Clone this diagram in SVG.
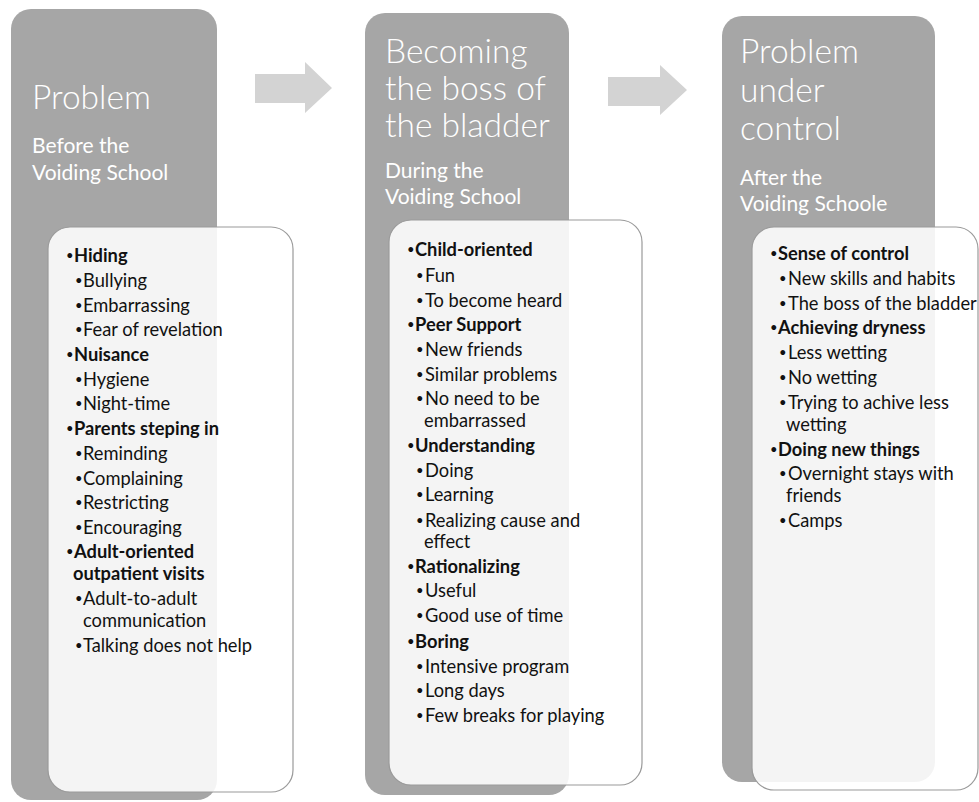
<svg xmlns="http://www.w3.org/2000/svg" width="979" height="802" viewBox="0 0 979 802">
  <style>
    .stage { fill: #a6a6a6; }
    .card { fill: #ffffff; fill-opacity: 0.88; stroke: #9a9a9a; stroke-width: 1.2; }
    .title { font-family: Lato, "Liberation Sans", sans-serif; font-weight: 300; font-size: 33.5px; fill: #ffffff; }
    .sub { font-family: Lato, "Liberation Sans", sans-serif; font-weight: 400; font-size: 21px; fill: #ffffff; }
    .item { font-family: Lato, "Liberation Sans", sans-serif; font-size: 18.3px; fill: #111111; }
    .dot { font-family: Lato, "Liberation Sans", sans-serif; font-size: 13px; fill: #111111; }
    .b { font-weight: 700; }
    .flow { fill: #d3d3d3; }
  </style>

  <!-- stage 1 -->
  <g id="before">
    <rect class="stage" x="11" y="9" width="206" height="791" rx="20"/>
    <text class="title" x="32" y="109">Problem</text>
    <text class="sub" x="32" y="153">Before the</text>
    <text class="sub" x="32" y="180">Voiding School</text>
    <rect class="card" x="48" y="227" width="245" height="565" rx="22"/>
    <g class="dot">
      <text x="66" y="260">•</text>
      <text x="75" y="285">•</text>
      <text x="75" y="310">•</text>
      <text x="75" y="334">•</text>
      <text x="66" y="359">•</text>
      <text x="75" y="384">•</text>
      <text x="75" y="408">•</text>
      <text x="66" y="433">•</text>
      <text x="75" y="458">•</text>
      <text x="75" y="483">•</text>
      <text x="75" y="507">•</text>
      <text x="75" y="532">•</text>
      <text x="66" y="556">•</text>
      <text x="75" y="603">•</text>
      <text x="75" y="650">•</text>
    </g>
    <g class="item">
      <text class="b" x="74" y="262">Hiding</text>
      <text x="83" y="287">Bullying</text>
      <text x="83" y="312">Embarrassing</text>
      <text x="83" y="336">Fear of revelation</text>
      <text class="b" x="74" y="361">Nuisance</text>
      <text x="83" y="386">Hygiene</text>
      <text x="83" y="410">Night-time</text>
      <text class="b" x="74" y="435">Parents steping in</text>
      <text x="83" y="460">Reminding</text>
      <text x="83" y="485">Complaining</text>
      <text x="83" y="509">Restricting</text>
      <text x="83" y="534">Encouraging</text>
      <text class="b" x="74" y="558">Adult-oriented</text>
      <text class="b" x="73" y="580">outpatient visits</text>
      <text x="83" y="605">Adult-to-adult</text>
      <text x="83" y="627">communication</text>
      <text x="83" y="652">Talking does not help</text>
    </g>
  </g>

  <!-- stage 2 -->
  <g id="during">
    <rect class="stage" x="365" y="13" width="204" height="782" rx="20"/>
    <text class="title" x="385" y="63">Becoming</text>
    <text class="title" x="385" y="100">the boss of</text>
    <text class="title" x="385" y="137">the bladder</text>
    <text class="sub" x="385" y="178">During the</text>
    <text class="sub" x="385" y="204">Voiding School</text>
    <rect class="card" x="389" y="220" width="253" height="565" rx="22"/>
    <g class="dot">
      <text x="407" y="254">•</text>
      <text x="416" y="280">•</text>
      <text x="416" y="305">•</text>
      <text x="407" y="329">•</text>
      <text x="416" y="354">•</text>
      <text x="416" y="379">•</text>
      <text x="416" y="403">•</text>
      <text x="407" y="450">•</text>
      <text x="416" y="475">•</text>
      <text x="416" y="499">•</text>
      <text x="416" y="525">•</text>
      <text x="407" y="571">•</text>
      <text x="416" y="595">•</text>
      <text x="416" y="620">•</text>
      <text x="407" y="646">•</text>
      <text x="416" y="671">•</text>
      <text x="416" y="695">•</text>
      <text x="416" y="720">•</text>
    </g>
    <g class="item">
      <text class="b" x="415" y="256">Child-oriented</text>
      <text x="425" y="282">Fun</text>
      <text x="425" y="307">To become heard</text>
      <text class="b" x="415" y="331">Peer Support</text>
      <text x="425" y="356">New friends</text>
      <text x="425" y="381">Similar problems</text>
      <text x="425" y="405">No need to be</text>
      <text x="424" y="427">embarrassed</text>
      <text class="b" x="415" y="452">Understanding</text>
      <text x="425" y="477">Doing</text>
      <text x="425" y="501">Learning</text>
      <text x="425" y="527">Realizing cause and</text>
      <text x="424" y="548">effect</text>
      <text class="b" x="415" y="573">Rationalizing</text>
      <text x="425" y="597">Useful</text>
      <text x="425" y="622">Good use of time</text>
      <text class="b" x="415" y="648">Boring</text>
      <text x="425" y="673">Intensive program</text>
      <text x="425" y="697">Long days</text>
      <text x="425" y="722">Few breaks for playing</text>
    </g>
  </g>

  <!-- stage 3 -->
  <g id="after">
    <rect class="stage" x="722" y="16" width="213" height="766" rx="20"/>
    <text class="title" x="740" y="63">Problem</text>
    <text class="title" x="740" y="102">under</text>
    <text class="title" x="740" y="140">control</text>
    <text class="sub" x="740" y="185">After the</text>
    <text class="sub" x="740" y="211">Voiding Schoole</text>
    <rect class="card" x="752" y="227" width="226" height="563" rx="22"/>
    <g class="dot">
      <text x="770" y="258">•</text>
      <text x="779" y="283">•</text>
      <text x="779" y="308">•</text>
      <text x="770" y="332">•</text>
      <text x="779" y="357">•</text>
      <text x="779" y="382">•</text>
      <text x="779" y="407">•</text>
      <text x="770" y="454">•</text>
      <text x="779" y="478">•</text>
      <text x="779" y="525">•</text>
    </g>
    <g class="item">
      <text class="b" x="778" y="260">Sense of control</text>
      <text x="788" y="285">New skills and habits</text>
      <text x="788" y="310">The boss of the bladder</text>
      <text class="b" x="778" y="334">Achieving dryness</text>
      <text x="788" y="359">Less wetting</text>
      <text x="788" y="384">No wetting</text>
      <text x="788" y="409">Trying to achive less</text>
      <text x="786" y="431">wetting</text>
      <text class="b" x="778" y="456">Doing new things</text>
      <text x="788" y="480">Overnight stays with</text>
      <text x="786" y="502">friends</text>
      <text x="788" y="527">Camps</text>
    </g>
  </g>

  <!-- block arrows between stages -->
  <g id="connectors">
    <polygon class="flow" points="255,74 305,74 305,62 332,88 305,113 305,103 255,103"/>
    <polygon class="flow" points="608,77 660,77 660,65 687,90 660,115 660,106 608,106"/>
  </g>
</svg>
